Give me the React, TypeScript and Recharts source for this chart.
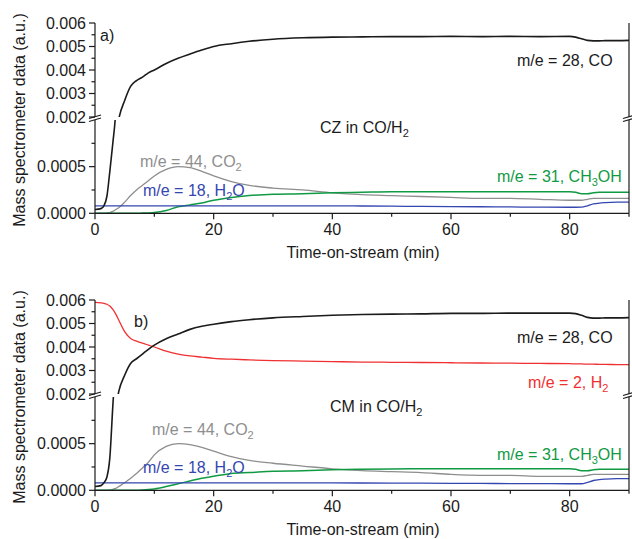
import React from "react";
import { LineChart, Line, XAxis, YAxis } from "recharts";

const FONT = '"Liberation Sans", Arial, Helvetica, sans-serif';
const INK = "#1b1b1b";
const C_CO = "#1b1b1b";
const C_CO2 = "#8e8e8e";
const C_H2O = "#3446b0";
const C_MEOH = "#109a44";
const C_H2 = "#f03030";

// time-on-stream (min), shared by every series
const TIME = [0, 1, 1.5, 2, 2.5, 3, 3.5, 4, 5, 6, 7, 8, 9, 10, 12, 14, 16, 18, 20, 23, 26, 30, 35, 40, 45, 50, 55, 60, 65, 70, 75, 80, 81, 82, 83, 84, 85, 86, 88, 90];

// panel a) CZ in CO/H2
const A_CO = [0.00004, 0.00005, 0.00008, 0.00018, 0.00045, 0.00075, 0.0011, 0.0019, 0.0027, 0.0033, 0.00355, 0.0037, 0.00388, 0.004, 0.00428, 0.0045, 0.00468, 0.00485, 0.005, 0.00512, 0.00522, 0.00531, 0.00537, 0.0054, 0.00541, 0.00542, 0.00542, 0.00543, 0.00542, 0.00543, 0.00542, 0.00543, 0.0054, 0.00533, 0.00526, 0.00524, 0.00524, 0.00525, 0.00525, 0.00526];
const A_CO2 = [0, 0, 0, 0.000003, 0.000008, 0.00002, 0.00004, 0.00006, 0.00012, 0.00019, 0.00025, 0.0003, 0.00035, 0.0004, 0.00047, 0.0005, 0.00049, 0.00045, 0.0004, 0.00034, 0.0003, 0.00027, 0.00025, 0.00022, 0.0002, 0.00019, 0.00018, 0.00017, 0.00016, 0.00016, 0.00015, 0.00014, 0.00014, 0.00014, 0.00015, 0.00016, 0.00016, 0.00016, 0.00016, 0.00016];
const A_MEOH = [0, 0, 0, 0, 0, 0, 0, 0, 0, 0, 0, 0.000002, 0.000004, 0.000008, 0.00003, 0.00007, 0.00009, 0.00011, 0.00014, 0.00017, 0.00019, 0.000205, 0.00021, 0.00022, 0.000225, 0.00023, 0.00023, 0.00023, 0.00023, 0.00023, 0.00023, 0.00023, 0.000225, 0.00021, 0.00021, 0.00022, 0.000225, 0.000225, 0.000225, 0.000225];
const A_H2O = [0.00008, 0.00008, 0.00008, 0.00008, 0.00008, 0.00008, 0.00008, 0.00008, 0.00008, 0.00008, 0.00008, 0.00008, 0.00008, 0.00008, 0.00008, 0.00008, 0.00008, 0.00008, 0.00008, 0.00008, 0.00008, 0.00008, 0.00008, 0.00008, 0.000078, 0.000076, 0.000074, 0.000072, 0.00007, 0.000068, 0.000066, 0.000065, 0.000065, 0.000066, 0.00008, 0.0001, 0.00011, 0.000115, 0.00012, 0.00012];

// panel b) CM in CO/H2
const B_CO = [0.00004, 0.00005, 0.00008, 0.00014, 0.00035, 0.0009, 0.0014, 0.0021, 0.0028, 0.0033, 0.0035, 0.0037, 0.0039, 0.00408, 0.00435, 0.00455, 0.00475, 0.00488, 0.00497, 0.00508, 0.00516, 0.00524, 0.0053, 0.00535, 0.00538, 0.0054, 0.00541, 0.00543, 0.00543, 0.00544, 0.00544, 0.00544, 0.00542, 0.00535, 0.00526, 0.00523, 0.00523, 0.00524, 0.00524, 0.00525];
const B_H2 = [0.0059, 0.00588, 0.00586, 0.00582, 0.00574, 0.0056, 0.0054, 0.00515, 0.00465, 0.00436, 0.00425, 0.00416, 0.00408, 0.004, 0.00382, 0.0037, 0.00362, 0.00357, 0.00352, 0.00348, 0.00345, 0.00342, 0.0034, 0.00338, 0.00336, 0.00335, 0.00334, 0.00333, 0.00332, 0.00331, 0.0033, 0.00329, 0.00328, 0.00328, 0.00327, 0.00327, 0.00326, 0.00326, 0.00325, 0.00325];
const B_CO2 = [0, 0, 0, 0, 0.000003, 0.00001, 0.00002, 0.00004, 0.00008, 0.00013, 0.00018, 0.00024, 0.0003, 0.00038, 0.00047, 0.0005, 0.00049, 0.00046, 0.00042, 0.00036, 0.00032, 0.00029, 0.00026, 0.00023, 0.00021, 0.0002, 0.00019, 0.00017, 0.00016, 0.00016, 0.00015, 0.00015, 0.00015, 0.00015, 0.00016, 0.00017, 0.00017, 0.00017, 0.00017, 0.00017];
const B_MEOH = [0, 0, 0, 0, 0, 0, 0, 0, 0, 0, 0, 0.000003, 0.000008, 0.000015, 0.00004, 0.00007, 0.0001, 0.00013, 0.00015, 0.00018, 0.00019, 0.000205, 0.00021, 0.00022, 0.000225, 0.000228, 0.00023, 0.00023, 0.00023, 0.00023, 0.00023, 0.00023, 0.000225, 0.00021, 0.00021, 0.00022, 0.000225, 0.000225, 0.000225, 0.000225];
const B_H2O = [0.00008, 0.00008, 0.00008, 0.00008, 0.00008, 0.00008, 0.00008, 0.00008, 0.00008, 0.00008, 0.00008, 0.00008, 0.00008, 0.00008, 0.00008, 0.00008, 0.00008, 0.00008, 0.00008, 0.00008, 0.00008, 0.00008, 0.00008, 0.000079, 0.000078, 0.000077, 0.000076, 0.000075, 0.000074, 0.000072, 0.000071, 0.00007, 0.00007, 0.00007, 0.000085, 0.000105, 0.000115, 0.00012, 0.000125, 0.000125];

// axis ticks
const X_TICKS = [0, 10, 20, 30, 40, 50, 60, 70, 80, 90];
const X_LABELS = [0, 20, 40, 60, 80];
const UPPER_TICKS = [0.002, 0.0025, 0.003, 0.0035, 0.004, 0.0045, 0.005, 0.0055, 0.006];
const UPPER_LABELS = [0.002, 0.003, 0.004, 0.005, 0.006];
const LOWER_TICKS = [0, 0.00025, 0.0005, 0.00075];
const LOWER_LABELS = [0, 0.0005];

const W = 632;
const UPPER_TOP = 23;
const UPPER_H = 94;
const UPPER_PAD = 12;
const LOWER_H = 93.3;
const PANEL_B = 277;

const has = (list: number[], v: number) => list.some((m) => Math.abs(m - v) < 1e-9);

type TickProps = { x?: number; y?: number; payload?: { value: number }; majors: number[]; digits?: number };

function LeftTick({ x = 0, y = 0, payload, majors, digits = 0 }: TickProps) {
  const v = payload?.value ?? 0;
  const major = has(majors, v);
  return (
    <g>
      <line x1={x} x2={x - (major ? 6 : 3.5)} y1={y} y2={y} stroke={INK} strokeWidth={1.2} />
      {major && (
        <text x={x - 9} y={y} dy="0.36em" textAnchor="end" fontSize={16} fontFamily={FONT} fill={INK}>
          {v.toFixed(digits)}
        </text>
      )}
    </g>
  );
}

function TopTick({ x = 0, y = 0, payload, majors }: TickProps) {
  const major = has(majors, payload?.value ?? 0);
  return <line x1={x} x2={x} y1={y} y2={y + (major ? 5 : 3)} stroke={INK} strokeWidth={1.2} />;
}

function BottomTick({ x = 0, y = 0, payload, majors }: TickProps) {
  const v = payload?.value ?? 0;
  const major = has(majors, v);
  return (
    <g>
      <line x1={x} x2={x} y1={y} y2={y + (major ? 6 : 3.5)} stroke={INK} strokeWidth={1.2} />
      {major && (
        <text x={x} y={y + 22} textAnchor="middle" fontSize={16} fontFamily={FONT} fill={INK}>
          {v}
        </text>
      )}
    </g>
  );
}

type SeriesDef = { key: string; color: string; width: number };

function Panel({ top, rows, upper, lower }: { top: number; rows: Record<string, number>[]; upper: SeriesDef[]; lower: SeriesDef[] }) {
  const upperHeight = UPPER_TOP + UPPER_H + UPPER_PAD;
  const lowerTop = top + UPPER_TOP + UPPER_H;
  const lowerHeight = 3 + LOWER_H + 40 + 2.7;
  return (
    <>
      <div style={{ position: "absolute", left: 0, top: lowerTop }}>
        <LineChart width={W} height={lowerHeight} data={rows} margin={{ top: 3, right: 2, bottom: 2.7, left: 35 }}>
          <XAxis
            dataKey="t"
            type="number"
            domain={[0, 90]}
            height={40}
            ticks={X_TICKS}
            interval={0}
            tickSize={0}
            tickMargin={0}
            tickLine={false}
            tick={<BottomTick majors={X_LABELS} />}
            axisLine={{ stroke: INK, strokeWidth: 1.2 }}
            allowDataOverflow
          />
          <YAxis
            type="number"
            domain={[0, 0.001]}
            ticks={LOWER_TICKS}
            interval={0}
            width={60}
            tickSize={0}
            tickMargin={0}
            tickLine={false}
            tick={<LeftTick majors={LOWER_LABELS} digits={4} />}
            axisLine={{ stroke: INK, strokeWidth: 1.2 }}
            allowDataOverflow
          />
          <YAxis yAxisId="right" orientation="right" type="number" domain={[0, 0.001]} width={1} tick={false} tickLine={false} axisLine={{ stroke: INK, strokeWidth: 1.2 }} />
          {lower.map((s) => (
            <Line key={s.key} dataKey={s.key} type="monotone" stroke={s.color} strokeWidth={s.width} dot={false} isAnimationActive={false} />
          ))}
        </LineChart>
      </div>
      <div style={{ position: "absolute", left: 0, top }}>
        <LineChart width={W} height={upperHeight} data={rows} margin={{ top: UPPER_TOP, right: 2, bottom: UPPER_PAD, left: 35 }}>
          <XAxis
            dataKey="t"
            type="number"
            domain={[0, 90]}
            orientation="top"
            height={0}
            ticks={X_TICKS}
            interval={0}
            tickSize={0}
            tickMargin={0}
            tickLine={false}
            tick={<TopTick majors={X_LABELS} />}
            axisLine={{ stroke: INK, strokeWidth: 1.2 }}
            allowDataOverflow
          />
          <YAxis
            type="number"
            domain={[0.002, 0.006]}
            ticks={UPPER_TICKS}
            interval={0}
            width={60}
            tickSize={0}
            tickMargin={0}
            tickLine={false}
            tick={<LeftTick majors={UPPER_LABELS} digits={3} />}
            axisLine={{ stroke: INK, strokeWidth: 1.2 }}
            allowDataOverflow
          />
          <YAxis yAxisId="right" orientation="right" type="number" domain={[0.002, 0.006]} width={1} tick={false} tickLine={false} axisLine={{ stroke: INK, strokeWidth: 1.2 }} />
          {upper.map((s) => (
            <Line key={s.key} dataKey={s.key} type="monotone" stroke={s.color} strokeWidth={s.width} dot={false} isAnimationActive={false} />
          ))}
        </LineChart>
      </div>
    </>
  );
}

function Sub({ children }: { children: React.ReactNode }) {
  return (
    <tspan dy={4} fontSize={11}>
      {children}
    </tspan>
  );
}

function BreakMarks({ y }: { y: number }) {
  return (
    <g stroke={INK} strokeWidth={1.2}>
      <line x1={89} y1={y + 1.5} x2={101} y2={y - 2} />
      <line x1={89} y1={y + 4.5} x2={101} y2={y + 1} />
      <line x1={623} y1={y + 1.5} x2={635} y2={y - 2} />
      <line x1={623} y1={y + 4.5} x2={635} y2={y + 1} />
    </g>
  );
}

function Labels({ top, panel }: { top: number; panel: "a" | "b" }) {
  const y = (v: number) => top + v;
  return (
    <g fontFamily={FONT} fontSize={16} fill={INK}>
      <text transform={`translate(19, ${y(120)}) rotate(-90)`} textAnchor="middle" dy="0.36em">
        Mass spectrometer data (a.u.)
      </text>
      <text x={363} y={y(258)} textAnchor="middle">
        Time-on-stream (min)
      </text>
      <BreakMarks y={y(117)} />
      <text x={panel === "a" ? 100 : 134} y={y(panel === "a" ? 41 : 50)}>
        {panel})
      </text>
      <text x={517} y={y(66)}>m/e = 28, CO</text>
      {panel === "b" && (
        <text x={528} y={y(111)} fill={C_H2}>
          m/e = 2, H<Sub>2</Sub>
        </text>
      )}
      <text x={panel === "a" ? 320 : 330} y={y(panel === "a" ? 133 : 135)}>
        {panel === "a" ? "CZ" : "CM"} in CO/H<Sub>2</Sub>
      </text>
      <text x={panel === "a" ? 140 : 152} y={y(panel === "a" ? 167 : 158)} fill={C_CO2}>
        m/e = 44, CO<Sub>2</Sub>
      </text>
      <text x={143} y={y(196)} fill={C_H2O}>
        m/e = 18, H<Sub>2</Sub>
        <tspan dy={-4}>O</tspan>
      </text>
      <text x={497} y={y(panel === "a" ? 182 : 183)} fill={C_MEOH}>
        m/e = 31, CH<Sub>3</Sub>
        <tspan dy={-4}>OH</tspan>
      </text>
    </g>
  );
}

const rowsA = TIME.map((t, i) => ({ t, co: A_CO[i], co2: A_CO2[i], meoh: A_MEOH[i], h2o: A_H2O[i] }));
const rowsB = TIME.map((t, i) => ({ t, co: B_CO[i], h2: B_H2[i], co2: B_CO2[i], meoh: B_MEOH[i], h2o: B_H2O[i] }));

const LOWER_SERIES: SeriesDef[] = [
  { key: "co2", color: C_CO2, width: 1.3 },
  { key: "meoh", color: C_MEOH, width: 1.5 },
  { key: "h2o", color: C_H2O, width: 1.3 },
  { key: "co", color: C_CO, width: 1.6 },
];

export default function App() {
  return (
    <div style={{ position: "absolute", left: 0, top: 0, width: W, height: 539, background: "#fff", fontFamily: FONT }}>
      <Panel top={0} rows={rowsA} upper={[{ key: "co", color: C_CO, width: 1.6 }]} lower={LOWER_SERIES} />
      <Panel
        top={PANEL_B}
        rows={rowsB}
        upper={[
          { key: "h2", color: C_H2, width: 1.3 },
          { key: "co", color: C_CO, width: 1.6 },
        ]}
        lower={LOWER_SERIES}
      />
      <svg width={W} height={539} style={{ position: "absolute", left: 0, top: 0, pointerEvents: "none" }}>
        <Labels top={0} panel="a" />
        <Labels top={PANEL_B} panel="b" />
      </svg>
    </div>
  );
}
